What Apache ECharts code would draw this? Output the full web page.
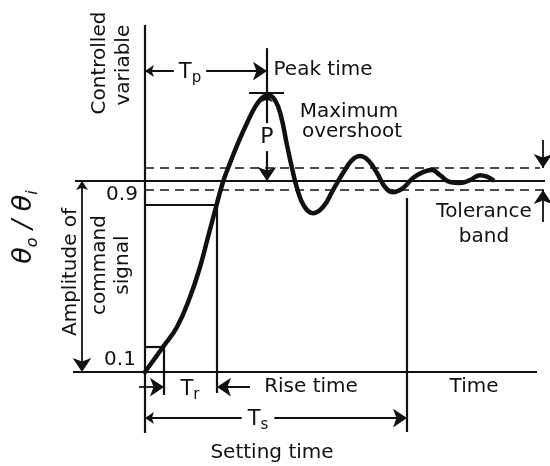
<!DOCTYPE html>
<html>
<head>
<meta charset="utf-8">
<script src="https://cdn.jsdelivr.net/npm/echarts@6/dist/echarts.min.js"></script>
<style>html,body{margin:0;padding:0;background:#fff;}#c{width:550px;height:466px;}</style>
</head>
<body>
<div id="c"></div>
<script>
// Step response curve (time in arbitrary units, value as fraction of command signal)
const curveTime  = [0,1.8,3.2,4.5,5.5,6.3,7.1,7.8,8.5,9.3,10.2,11.0,11.7,12.3,13.0,13.6,14.2,14.7,15.2,15.9,16.8,17.8,18.8,19.8,20.7,21.5,22.3,23.2,24.0,24.8,25.8,26.8,27.8,28.7,29.5,30.5,31.5,32.5,33.5,34.3,34.8];
const curveValue = [0,0.131,0.236,0.393,0.55,0.707,0.864,0.995,1.094,1.199,1.304,1.387,1.435,1.45,1.424,1.34,1.188,1.068,0.963,0.869,0.832,0.864,0.953,1.042,1.11,1.131,1.11,1.042,0.969,0.942,0.963,1.016,1.047,1.058,1.031,0.995,0.99,1.005,1.031,1.021,1.005];
// Reference levels
const finalValue = 1.0;
const level90 = 0.874;
const level10 = 0.131;
const tolUpper = 1.068;
const tolLower = 0.953;
const peakValue = 1.461;
// Reference times
const tStart = 0;
const t10 = 1.9;
const t90 = 7.2;
const tPeak = 12.2;
const tSettle = 26.2;
// Text labels
const labelTexts = ['Peak time','Maximum','overshoot','Tolerance','band','Time','Rise time','Setting time','0.9','0.1'];

const INK = '#111111';
const FONT = 'DejaVu Sans';

const curveData = curveTime.map((t, i) => [t, curveValue[i]]);

function seg(a, b) { return { coords: [a, b] }; }

const plainSegs = [
  seg([tStart, 1.817], [tStart, -0.319]),     // vertical axis
  seg([-7.2, 0], [39.2, 0]),                  // baseline
  seg([-7.0, finalValue], [40, finalValue]),  // command level
  seg([tStart, level90], [t90, level90]),
  seg([tStart, level10], [t10, level10]),
  seg([t10, level10], [t10, -0.12]),
  seg([t90, level90], [t90, -0.11]),
  seg([tSettle, 0.911], [tSettle, -0.314]),
  seg([tPeak, 1.696], [tPeak, finalValue]),
  seg([10.4, peakValue], [13.9, peakValue])
];
const dashedSegs = [
  seg([tStart, tolUpper], [39.5, tolUpper]),
  seg([tStart, tolLower], [40.3, tolLower])
];
const endArrowSegs = [
  seg([-0.6, -0.079], [t10, -0.079]),
  seg([10.5, -0.079], [t90, -0.079]),
  seg([39.8, 1.215], [39.8, tolUpper]),
  seg([39.8, 0.785], [39.8, tolLower])
];
const bothArrowSegs = [
  seg([tStart, 1.576], [tPeak, 1.576]),
  seg([tPeak, peakValue], [tPeak, finalValue]),
  seg([-6.3, finalValue], [-6.3, 0]),
  seg([tStart, -0.241], [tSettle, -0.241])
];

const baseRich = {
  m: { fontSize: 21, fontFamily: FONT, color: INK, lineHeight: 26, textBorderWidth: 0, opacity: 1 },
  s: { fontSize: 15, fontFamily: FONT, color: INK, lineHeight: 12, verticalAlign: 'bottom', textBorderWidth: 0, opacity: 1 },
  th: { fontSize: 27, fontFamily: FONT, color: INK, fontStyle: 'italic', lineHeight: 34, textBorderWidth: 0, opacity: 1 },
  ts: { fontSize: 16, fontFamily: FONT, color: INK, fontStyle: 'italic', lineHeight: 14, verticalAlign: 'bottom', textBorderWidth: 0, opacity: 1 }
};

function txt(pos, text, extra) {
  return {
    value: pos,
    itemStyle: { opacity: 1 },
    label: Object.assign({
      show: true, position: 'inside', formatter: text, opacity: 1,
      fontSize: 20, fontFamily: FONT, color: INK, rich: baseRich,
      textBorderWidth: 0, textBorderColor: 'transparent', textShadowBlur: 0
    }, extra || {})
  };
}

const textData = [
  txt([17.8, 1.581], labelTexts[0]),
  txt([20.4, 1.361], labelTexts[1]),
  txt([20.7, 1.257], labelTexts[2]),
  txt([33.9, 0.838], labelTexts[3]),
  txt([33.9, 0.707], labelTexts[4]),
  txt([32.9, -0.079], labelTexts[5]),
  txt([16.6, -0.079], labelTexts[6]),
  txt([12.7, -0.424], labelTexts[7]),
  txt([-2.3, 0.927], labelTexts[8]),
  txt([-2.5, 0.063], labelTexts[9]),
  txt([4.5, 1.566], '{m|T}{s|p}', { backgroundColor: '#fff', padding: [0, 5, 0, 5] }),
  txt([4.5, -0.09], '{m|T}{s|r}'),
  txt([11.3, -0.251], '{m|T}{s|s}', { backgroundColor: '#fff', padding: [0, 6, 0, 6] }),
  txt([tPeak, 1.23], 'P', { fontSize: 22, backgroundColor: '#fff', padding: [3, 0, 3, 0] }),
  txt([-4.5, 1.618], 'Controlled', { rotate: 90 }),
  txt([-2.1, 1.607], 'variable', { rotate: 90 }),
  txt([-7.4, 0.524], 'Amplitude of', { rotate: 90 }),
  txt([-4.5, 0.56], 'command', { rotate: 90 }),
  txt([-2.2, 0.56], 'signal', { rotate: 90 }),
  txt([-12.1, 0.759], '{th|θ}{ts|o}{th| / θ}{ts|i}', { rotate: 90 })
];

const chart = echarts.init(document.getElementById('c'), null, { renderer: 'canvas' });
chart.setOption({
  backgroundColor: '#fff',
  animation: false,
  grid: { left: 0, right: 0, top: 0, bottom: 0, containLabel: false },
  xAxis: { type: 'value', min: -14.5, max: 40.5, show: false },
  yAxis: { type: 'value', min: -0.492, max: 1.948, show: false },
  series: [
    { type: 'lines', coordinateSystem: 'cartesian2d', silent: true, symbol: 'none',
      lineStyle: { color: INK, width: 2.2, opacity: 1 }, data: plainSegs, z: 2 },
    { type: 'lines', coordinateSystem: 'cartesian2d', silent: true, symbol: 'none',
      lineStyle: { color: INK, width: 1.7, type: [9, 6], opacity: 1 }, data: dashedSegs, z: 2 },
    { type: 'lines', coordinateSystem: 'cartesian2d', silent: true, symbol: ['none', 'arrow'], symbolSize: [9, 14],
      lineStyle: { color: INK, width: 1.8, opacity: 1 }, data: endArrowSegs, z: 2 },
    { type: 'lines', coordinateSystem: 'cartesian2d', silent: true, symbol: ['arrow', 'arrow'], symbolSize: [9, 14],
      lineStyle: { color: INK, width: 1.8, opacity: 1 }, data: bothArrowSegs, z: 2 },
    { type: 'line', data: curveData, smooth: 0.45, showSymbol: false, silent: true,
      lineStyle: { color: INK, width: 4.5, cap: 'round', join: 'round' }, z: 3 },
    { type: 'scatter', symbolSize: 0, silent: true, itemStyle: { opacity: 1 }, data: textData, z: 5 }
  ]
});
</script>
</body>
</html>
